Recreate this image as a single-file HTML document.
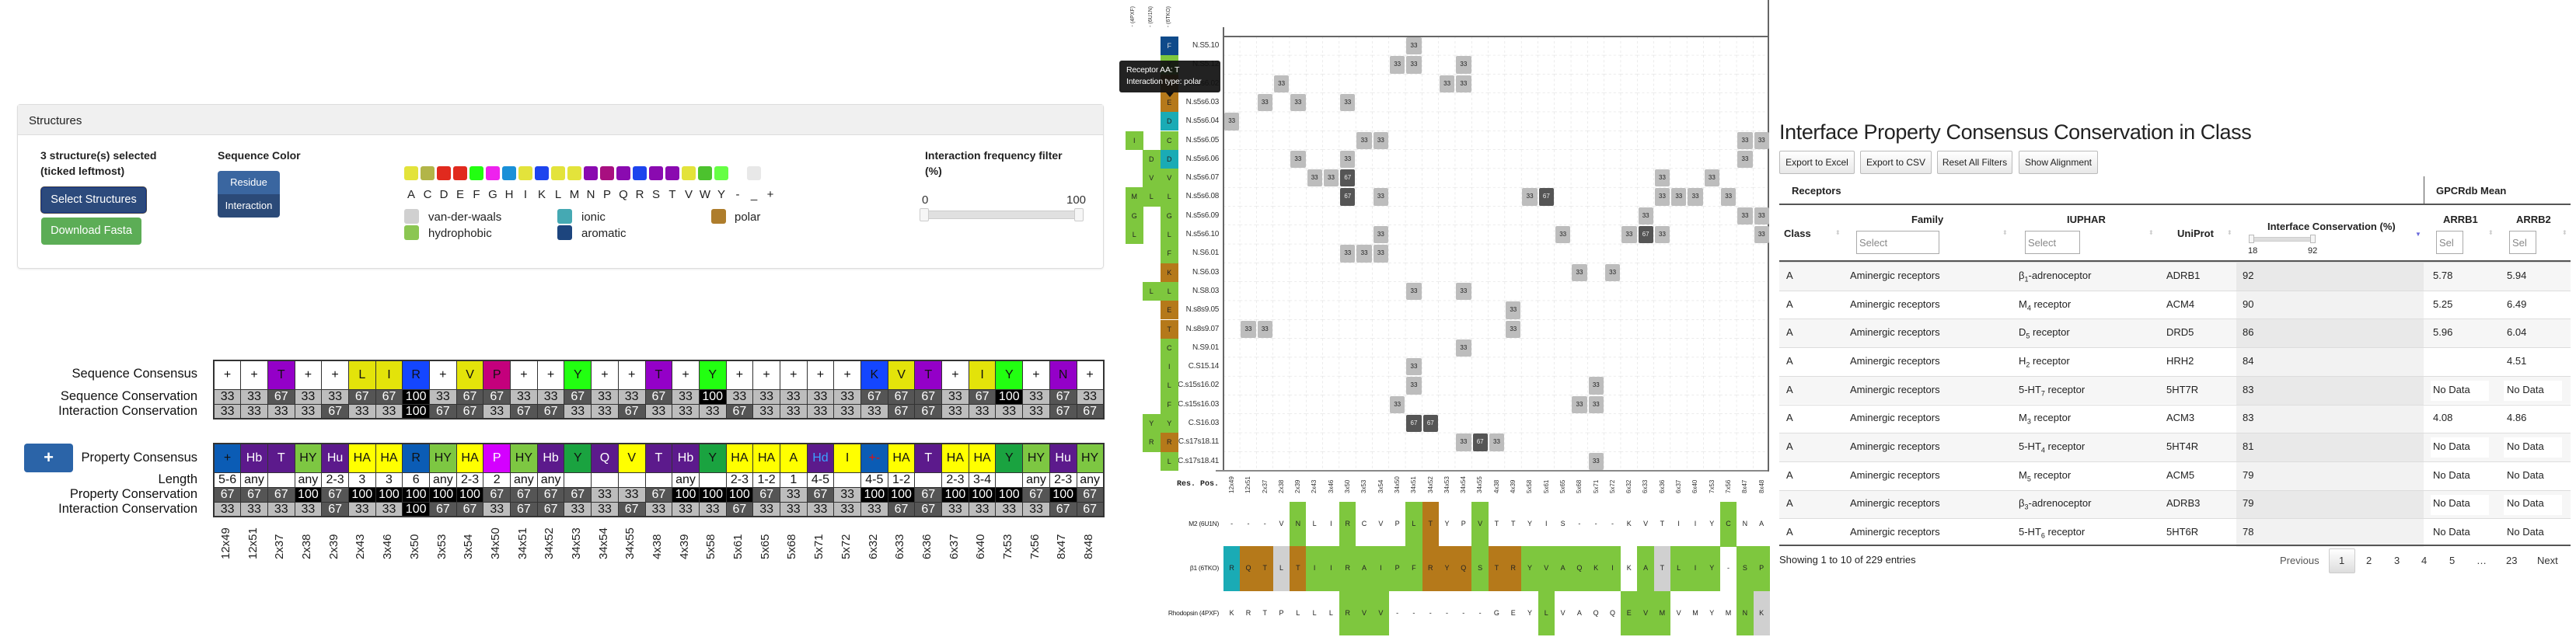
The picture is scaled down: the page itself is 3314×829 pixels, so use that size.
<!DOCTYPE html>
<html><head><meta charset="utf-8">
<style>
*{box-sizing:border-box;margin:0;padding:0}
body{width:3314px;height:829px;position:relative;overflow:hidden;background:#fff;font-family:"Liberation Sans",Arial,sans-serif;color:#333}
.a{position:absolute}
.panel{left:22px;top:134px;width:1398px;height:212px;border:1px solid #ddd;border-radius:4px;box-shadow:0 1px 2px rgba(0,0,0,.08)}
.ph{position:absolute;left:0;top:0;right:0;height:39px;background:#f0f0f0;border-bottom:1px solid #ddd;font-size:15px;padding:12px 0 0 14px;color:#222}
.b{font-weight:bold;font-size:14px;color:#222;line-height:20px}
.btn{position:absolute;color:#fff;font-size:14.5px;text-align:center;border-radius:4px}
.sq{position:absolute;top:214px;width:18px;height:18px;border-radius:3px}
.lt{position:absolute;top:242px;font-size:15px;color:#222;width:18px;text-align:center}
.lg{position:absolute;width:19px;height:19px;border-radius:3px}
.lgt{position:absolute;font-size:15px;color:#222}
table.s{position:absolute;left:274px;border-collapse:collapse;table-layout:fixed;width:1145px;border:2px solid #333}
table.s td{border:1.5px solid #333;text-align:center;font-size:16px;width:34.7px;padding:0;color:#111;overflow:hidden;white-space:nowrap}
.r1 td{height:37px}
.r2 td{height:19px;line-height:17px}
.w{background:#fff}
.c33{background:#bdbdbd;color:#111}
.c67{background:#555;color:#fff!important}
.c100{background:#000;color:#fff!important}
.pu{background:#9400c8}.ye{background:#e3e30a}.bl{background:#1446ff}.mg{background:#c4007c}.gr{background:#22ff11}
.P1{background:#0b5cb5;color:#111}.P2{background:#5c1a8c;color:#fff!important}.P3{background:#7dc742}.P4{background:#ffff00}.P5{background:#d400ff;color:#fff!important}.P6{background:#1aa340}
.lab{position:absolute;right:3060px;font-size:16.5px;color:#111;text-align:right;white-space:nowrap}
.xl{position:absolute;display:flex}
.xl span{display:block;writing-mode:vertical-rl;transform:rotate(180deg);text-align:left;font-size:15px;color:#222;width:34.7px;line-height:34.7px}
.hm{position:absolute;left:calc(1575px + var(--c)*21.3px);top:calc(48px + var(--r)*24.3px);width:19.4px;height:22.4px;border-radius:2px;background:#bdbdbd;font-size:8px;text-align:center;line-height:22.4px;color:#222}
.hm.d{background:#555;color:#eee}
.rl{position:absolute;right:1746px;font-size:10px;color:#333;height:24.3px;line-height:24.3px;white-space:nowrap;letter-spacing:-.3px}
.sc{position:absolute;width:22.6px;height:24.3px;font-size:9px;text-align:center;line-height:24.3px;color:#222}
.g{background:#7ec73e}.br{background:#b5791a}.tl{background:#1aabb5}.db{background:#0f4a8a}.gy{background:#d0d0d0}
.al{position:absolute;left:1574px;display:flex;height:57.5px}
.al span{width:21.3px;height:57.5px;line-height:57.5px;text-align:center;font-size:9px;color:#222;display:block}
.hx{position:absolute;left:1574px;top:609px;display:flex}
.hx span{writing-mode:vertical-rl;transform:rotate(180deg);width:21.3px;line-height:21.3px;font-size:8px;color:#333;height:26px;text-align:left}
.al-l{position:absolute;right:1746px;font-size:8.5px;color:#222;white-space:nowrap;letter-spacing:-.3px}
.tb{position:absolute;font-size:13px;color:#222;white-space:nowrap}
.th{font-weight:bold}
.row{position:absolute;left:2289px;width:1018px;height:36.7px;border-top:1px solid #ddd}
.row.o{background:#f6f6f6}
.cc{position:absolute;left:588px;width:241px;top:0;height:36px;background:#f2f2f2}
.row.o .cc{background:#e9e9e9}
.nd{position:absolute;top:5px;height:26px;width:75px;background:#fff}
.ebtn{position:absolute;top:194px;height:30px;border:1px solid #bbb;border-radius:2px;background:linear-gradient(#fff,#e8e8e8);font-size:12px;text-align:center;line-height:28px;color:#222}
.sel{position:absolute;top:297px;height:30px;border:1px solid #aaa;font-size:13px;color:#888;padding:7px 0 0 3px;overflow:hidden;background:#fff}
.pg{position:absolute;top:714px;font-size:13px;color:#333}
</style></head><body>

<div class="a panel">
 <div class="ph">Structures</div>
</div>
<div class="a b" style="left:52px;top:190px">3 structure(s) selected<br>(ticked leftmost)</div>
<div class="btn" style="left:53px;top:241px;width:135px;height:33px;background:#2c4a7c;border:1.5px solid #1a3a8c;box-shadow:0 0 0 1px #444;line-height:30px">Select Structures</div>
<div class="btn" style="left:53px;top:280px;width:129px;height:35px;background:#5cad56;line-height:35px">Download Fasta</div>
<div class="a b" style="left:280px;top:190px">Sequence Color</div>
<div class="btn" style="left:280px;top:220px;width:80px;height:30px;background:#3a66a0;border-radius:4px 4px 0 0;line-height:30px;font-size:13px">Residue</div>
<div class="btn" style="left:280px;top:250px;width:80px;height:30px;background:#2b4a78;border-radius:0 0 4px 4px;line-height:30px;font-size:13px">Interaction</div>

<div class="sq" style="left:520px;background:#e3e33b"></div><div class="sq" style="left:541px;background:#b2b548"></div><div class="sq" style="left:562px;background:#e12a1e"></div><div class="sq" style="left:583px;background:#e12a1e"></div><div class="sq" style="left:604px;background:#22ff11"></div><div class="sq" style="left:625px;background:#ee22ee"></div><div class="sq" style="left:646px;background:#1a90d8"></div><div class="sq" style="left:667px;background:#e3e33b"></div><div class="sq" style="left:688px;background:#1d44ee"></div><div class="sq" style="left:709px;background:#e3e33b"></div><div class="sq" style="left:730px;background:#e3e33b"></div><div class="sq" style="left:751px;background:#8a0ab0"></div><div class="sq" style="left:772px;background:#a80f80"></div><div class="sq" style="left:793px;background:#8a0ab0"></div><div class="sq" style="left:814px;background:#1d44ee"></div><div class="sq" style="left:835px;background:#8a0ab0"></div><div class="sq" style="left:856px;background:#8a0ab0"></div><div class="sq" style="left:877px;background:#e3e33b"></div><div class="sq" style="left:898px;background:#4cc22e"></div><div class="sq" style="left:919px;background:#66ff44"></div><div class="sq" style="left:961px;background:#e8e8e8"></div>
<div class="lt" style="left:520px">A</div><div class="lt" style="left:541px">C</div><div class="lt" style="left:562px">D</div><div class="lt" style="left:583px">E</div><div class="lt" style="left:604px">F</div><div class="lt" style="left:625px">G</div><div class="lt" style="left:646px">H</div><div class="lt" style="left:667px">I</div><div class="lt" style="left:688px">K</div><div class="lt" style="left:709px">L</div><div class="lt" style="left:730px">M</div><div class="lt" style="left:751px">N</div><div class="lt" style="left:772px">P</div><div class="lt" style="left:793px">Q</div><div class="lt" style="left:814px">R</div><div class="lt" style="left:835px">S</div><div class="lt" style="left:856px">T</div><div class="lt" style="left:877px">V</div><div class="lt" style="left:898px">W</div><div class="lt" style="left:919px">Y</div><div class="lt" style="left:940px">-</div><div class="lt" style="left:961px">_</div><div class="lt" style="left:982px">+</div>
<div class="lg" style="left:520px;top:269px;background:#d0d0d0"></div><div class="lgt" style="left:551px;top:271px">van-der-waals</div>
<div class="lg" style="left:520px;top:290px;background:#8bc652"></div><div class="lgt" style="left:551px;top:292px">hydrophobic</div>
<div class="lg" style="left:717px;top:269px;background:#45a9b3"></div><div class="lgt" style="left:748px;top:271px">ionic</div>
<div class="lg" style="left:717px;top:290px;background:#1d457e"></div><div class="lgt" style="left:748px;top:292px">aromatic</div>
<div class="lg" style="left:915px;top:269px;background:#ae7d2c"></div><div class="lgt" style="left:945px;top:271px">polar</div>

<div class="a b" style="left:1190px;top:190px">Interaction frequency filter<br>(%)</div>
<div class="a" style="left:1186px;top:249px;font-size:15px">0</div>
<div class="a" style="left:1372px;top:249px;font-size:15px">100</div>
<div class="a" style="left:1186px;top:271px;width:208px;height:11px;background:#e0e0e0;border:1px solid #ccc;border-radius:2px"></div>
<div class="a" style="left:1183px;top:268px;width:12px;height:17px;background:#f6f6f6;border:1px solid #ccc;border-radius:2px"></div>
<div class="a" style="left:1382px;top:268px;width:12px;height:17px;background:#f6f6f6;border:1px solid #ccc;border-radius:2px"></div>

<div class="lab" style="top:472px">Sequence Consensus</div>
<div class="lab" style="top:501px">Sequence Conservation</div>
<div class="lab" style="top:520px">Interaction Conservation</div>
<table class="s" style="top:463px">
<tr class="r1"><td class="w">+</td><td class="w">+</td><td class="pu">T</td><td class="w">+</td><td class="w">+</td><td class="ye">L</td><td class="ye">I</td><td class="bl">R</td><td class="w">+</td><td class="ye">V</td><td class="mg">P</td><td class="w">+</td><td class="w">+</td><td class="gr">Y</td><td class="w">+</td><td class="w">+</td><td class="pu">T</td><td class="w">+</td><td class="gr">Y</td><td class="w">+</td><td class="w">+</td><td class="w">+</td><td class="w">+</td><td class="w">+</td><td class="bl">K</td><td class="ye">V</td><td class="pu">T</td><td class="w">+</td><td class="ye">I</td><td class="gr">Y</td><td class="w">+</td><td class="pu">N</td><td class="w">+</td></tr>
<tr class="r2"><td class="c33">33</td><td class="c33">33</td><td class="c67">67</td><td class="c33">33</td><td class="c33">33</td><td class="c67">67</td><td class="c67">67</td><td class="c100">100</td><td class="c33">33</td><td class="c67">67</td><td class="c67">67</td><td class="c33">33</td><td class="c33">33</td><td class="c67">67</td><td class="c33">33</td><td class="c33">33</td><td class="c67">67</td><td class="c33">33</td><td class="c100">100</td><td class="c33">33</td><td class="c33">33</td><td class="c33">33</td><td class="c33">33</td><td class="c33">33</td><td class="c67">67</td><td class="c67">67</td><td class="c67">67</td><td class="c33">33</td><td class="c67">67</td><td class="c100">100</td><td class="c33">33</td><td class="c67">67</td><td class="c33">33</td></tr>
<tr class="r2"><td class="c33">33</td><td class="c33">33</td><td class="c33">33</td><td class="c33">33</td><td class="c67">67</td><td class="c33">33</td><td class="c33">33</td><td class="c100">100</td><td class="c67">67</td><td class="c67">67</td><td class="c33">33</td><td class="c67">67</td><td class="c67">67</td><td class="c33">33</td><td class="c33">33</td><td class="c67">67</td><td class="c33">33</td><td class="c33">33</td><td class="c33">33</td><td class="c67">67</td><td class="c33">33</td><td class="c33">33</td><td class="c33">33</td><td class="c33">33</td><td class="c33">33</td><td class="c67">67</td><td class="c67">67</td><td class="c33">33</td><td class="c33">33</td><td class="c33">33</td><td class="c33">33</td><td class="c67">67</td><td class="c67">67</td></tr>
</table>

<div class="btn" style="left:31px;top:571px;width:63px;height:37px;background:#2b64a8;font-size:22px;line-height:35px;font-weight:bold">+</div>
<div class="lab" style="top:580px">Property Consensus</div>
<div class="lab" style="top:608px">Length</div>
<div class="lab" style="top:627px">Property Conservation</div>
<div class="lab" style="top:646px">Interaction Conservation</div>
<table class="s" style="top:570px">
<tr class="r1"><td class="P1">+</td><td class="P2">Hb</td><td class="P2">T</td><td class="P3">HY</td><td class="P2">Hu</td><td class="P4">HA</td><td class="P4">HA</td><td class="P1">R</td><td class="P3">HY</td><td class="P4">HA</td><td class="P5">P</td><td class="P3">HY</td><td class="P2">Hb</td><td class="P6">Y</td><td class="P2">Q</td><td class="P4">V</td><td class="P2">T</td><td class="P2">Hb</td><td class="P6">Y</td><td class="P4">HA</td><td class="P4">HA</td><td class="P4">A</td><td class="P2" style="color:#3aa0ff!important">Hd</td><td class="P4">I</td><td class="P1" style="color:#e01010">+-</td><td class="P4">HA</td><td class="P2">T</td><td class="P4">HA</td><td class="P4">HA</td><td class="P6">Y</td><td class="P3">HY</td><td class="P2">Hu</td><td class="P3">HY</td></tr>
<tr class="r2"><td class="w">5-6</td><td class="w">any</td><td class="w"></td><td class="w">any</td><td class="w">2-3</td><td class="w">3</td><td class="w">3</td><td class="w">6</td><td class="w">any</td><td class="w">2-3</td><td class="w">2</td><td class="w">any</td><td class="w">any</td><td class="w"></td><td class="w"></td><td class="w"></td><td class="w"></td><td class="w">any</td><td class="w"></td><td class="w">2-3</td><td class="w">1-2</td><td class="w">1</td><td class="w">4-5</td><td class="w"></td><td class="w">4-5</td><td class="w">1-2</td><td class="w"></td><td class="w">2-3</td><td class="w">3-4</td><td class="w"></td><td class="w">any</td><td class="w">2-3</td><td class="w">any</td></tr>
<tr class="r2"><td class="c67">67</td><td class="c67">67</td><td class="c67">67</td><td class="c100">100</td><td class="c67">67</td><td class="c100">100</td><td class="c100">100</td><td class="c100">100</td><td class="c100">100</td><td class="c100">100</td><td class="c67">67</td><td class="c67">67</td><td class="c67">67</td><td class="c67">67</td><td class="c33">33</td><td class="c33">33</td><td class="c67">67</td><td class="c100">100</td><td class="c100">100</td><td class="c100">100</td><td class="c67">67</td><td class="c33">33</td><td class="c67">67</td><td class="c33">33</td><td class="c100">100</td><td class="c100">100</td><td class="c67">67</td><td class="c100">100</td><td class="c100">100</td><td class="c100">100</td><td class="c67">67</td><td class="c100">100</td><td class="c67">67</td></tr>
<tr class="r2"><td class="c33">33</td><td class="c33">33</td><td class="c33">33</td><td class="c33">33</td><td class="c67">67</td><td class="c33">33</td><td class="c33">33</td><td class="c100">100</td><td class="c67">67</td><td class="c67">67</td><td class="c33">33</td><td class="c67">67</td><td class="c67">67</td><td class="c33">33</td><td class="c33">33</td><td class="c67">67</td><td class="c33">33</td><td class="c33">33</td><td class="c33">33</td><td class="c67">67</td><td class="c33">33</td><td class="c33">33</td><td class="c33">33</td><td class="c33">33</td><td class="c33">33</td><td class="c67">67</td><td class="c67">67</td><td class="c33">33</td><td class="c33">33</td><td class="c33">33</td><td class="c33">33</td><td class="c67">67</td><td class="c67">67</td></tr>
</table>
<div class="xl" style="left:274px;top:676px;height:44px">
<span>12x49</span><span>12x51</span><span>2x37</span><span>2x38</span><span>2x39</span><span>2x43</span><span>3x46</span><span>3x50</span><span>3x53</span><span>3x54</span><span>34x50</span><span>34x51</span><span>34x52</span><span>34x53</span><span>34x54</span><span>34x55</span><span>4x38</span><span>4x39</span><span>5x58</span><span>5x61</span><span>5x65</span><span>5x68</span><span>5x71</span><span>5x72</span><span>6x32</span><span>6x33</span><span>6x36</span><span>6x37</span><span>6x40</span><span>7x53</span><span>7x56</span><span>8x47</span><span>8x48</span>
</div>

<svg class="a" style="left:1574px;top:47px" width="701" height="560">
<defs><pattern id="gp" width="21.3" height="24.3" patternUnits="userSpaceOnUse">
<line x1="21.3" y1="0" x2="21.3" y2="24.3" stroke="#d8d8d8" stroke-width="1" stroke-dasharray="3,3"/>
<line x1="0" y1="24.3" x2="21.3" y2="24.3" stroke="#d8d8d8" stroke-width="1" stroke-dasharray="3,3"/>
</pattern></defs>
<rect x="0" y="0" width="700" height="559" fill="url(#gp)"/>
</svg>
<div class="a" style="left:1573px;top:35px;width:1.5px;height:572px;background:#666"></div>
<div class="a" style="left:1574px;top:46px;width:701px;height:1.5px;background:#666"></div>
<div class="a" style="left:1564px;top:605px;width:711px;height:1.5px;background:#888"></div>
<div class="a" style="left:2274px;top:0px;width:1.5px;height:607px;background:#666"></div>

<div class="a" style="left:1454px;top:8px;writing-mode:vertical-rl;transform:rotate(180deg);font-size:7px;color:#333">- (4PXF)</div>
<div class="a" style="left:1477px;top:8px;writing-mode:vertical-rl;transform:rotate(180deg);font-size:7px;color:#333">- (6U1N)</div>
<div class="a" style="left:1500px;top:8px;writing-mode:vertical-rl;transform:rotate(180deg);font-size:7px;color:#333">- (6TKO)</div>

<div class="rl" style="top:47px">N.S5.10</div><div class="rl" style="top:71.3px">N.S5.12</div><div class="rl" style="top:95.6px">N.s5s6.02</div><div class="rl" style="top:119.9px">N.s5s6.03</div><div class="rl" style="top:144.2px">N.s5s6.04</div><div class="rl" style="top:168.5px">N.s5s6.05</div><div class="rl" style="top:192.8px">N.s5s6.06</div><div class="rl" style="top:217.1px">N.s5s6.07</div><div class="rl" style="top:241.4px">N.s5s6.08</div><div class="rl" style="top:265.7px">N.s5s6.09</div><div class="rl" style="top:290px">N.s5s6.10</div><div class="rl" style="top:314.3px">N.S6.01</div><div class="rl" style="top:338.6px">N.S6.03</div><div class="rl" style="top:362.9px">N.S8.03</div><div class="rl" style="top:387.2px">N.s8s9.05</div><div class="rl" style="top:411.5px">N.s8s9.07</div><div class="rl" style="top:435.8px">N.S9.01</div><div class="rl" style="top:460.1px">C.S15.14</div><div class="rl" style="top:484.4px">C.s15s16.02</div><div class="rl" style="top:508.7px">C.s15s16.03</div><div class="rl" style="top:533px">C.S16.03</div><div class="rl" style="top:557.3px">C.s17s18.11</div><div class="rl" style="top:581.6px">C.s17s18.41</div>

<div class="sc db" style="left:1493px;top:47px;color:#ddd">F</div>
<div class="sc g" style="left:1493px;top:71.3px">Y</div>
<div class="sc br" style="left:1493px;top:95.6px">T</div>
<div class="sc br" style="left:1493px;top:119.9px">E</div>
<div class="sc tl" style="left:1493px;top:144.2px">D</div>
<div class="sc g" style="left:1448px;top:168.5px">I</div><div class="sc g" style="left:1493px;top:168.5px">C</div>
<div class="sc g" style="left:1470px;top:192.8px">D</div><div class="sc tl" style="left:1493px;top:192.8px">D</div>
<div class="sc g" style="left:1470px;top:217.1px">V</div><div class="sc g" style="left:1493px;top:217.1px">V</div>
<div class="sc g" style="left:1448px;top:241.4px">M</div><div class="sc g" style="left:1470px;top:241.4px">L</div><div class="sc g" style="left:1493px;top:241.4px">L</div>
<div class="sc g" style="left:1448px;top:265.7px">G</div><div class="sc g" style="left:1493px;top:265.7px">G</div>
<div class="sc g" style="left:1448px;top:290px">L</div><div class="sc g" style="left:1493px;top:290px">L</div>
<div class="sc g" style="left:1493px;top:314.3px">F</div>
<div class="sc br" style="left:1493px;top:338.6px">K</div>
<div class="sc g" style="left:1470px;top:362.9px">L</div><div class="sc g" style="left:1493px;top:362.9px">L</div>
<div class="sc br" style="left:1493px;top:387.2px">E</div>
<div class="sc br" style="left:1493px;top:411.5px">T</div>
<div class="sc g" style="left:1493px;top:435.8px">C</div>
<div class="sc g" style="left:1493px;top:460.1px">I</div>
<div class="sc g" style="left:1493px;top:484.4px">L</div>
<div class="sc g" style="left:1493px;top:508.7px">F</div>
<div class="sc g" style="left:1470px;top:533px">Y</div><div class="sc g" style="left:1493px;top:533px">Y</div>
<div class="sc g" style="left:1470px;top:557.3px">R</div><div class="sc br" style="left:1493px;top:557.3px">R</div>
<div class="sc g" style="left:1493px;top:581.6px">L</div>

<div class="hm" style="--r:0;--c:11">33</div>
<div class="hm" style="--r:1;--c:10">33</div><div class="hm" style="--r:1;--c:11">33</div><div class="hm" style="--r:1;--c:14">33</div>
<div class="hm" style="--r:2;--c:3">33</div><div class="hm" style="--r:2;--c:13">33</div><div class="hm" style="--r:2;--c:14">33</div>
<div class="hm" style="--r:3;--c:2">33</div><div class="hm" style="--r:3;--c:4">33</div><div class="hm" style="--r:3;--c:7">33</div>
<div class="hm" style="--r:4;--c:0">33</div>
<div class="hm" style="--r:5;--c:8">33</div><div class="hm" style="--r:5;--c:9">33</div><div class="hm" style="--r:5;--c:31">33</div><div class="hm" style="--r:5;--c:32">33</div>
<div class="hm" style="--r:6;--c:4">33</div><div class="hm" style="--r:6;--c:7">33</div><div class="hm" style="--r:6;--c:31">33</div>
<div class="hm" style="--r:7;--c:5">33</div><div class="hm" style="--r:7;--c:6">33</div><div class="hm d" style="--r:7;--c:7">67</div><div class="hm" style="--r:7;--c:26">33</div><div class="hm" style="--r:7;--c:29">33</div>
<div class="hm d" style="--r:8;--c:7">67</div><div class="hm" style="--r:8;--c:9">33</div><div class="hm" style="--r:8;--c:18">33</div><div class="hm d" style="--r:8;--c:19">67</div><div class="hm" style="--r:8;--c:26">33</div><div class="hm" style="--r:8;--c:27">33</div><div class="hm" style="--r:8;--c:28">33</div><div class="hm" style="--r:8;--c:30">33</div>
<div class="hm" style="--r:9;--c:25">33</div><div class="hm" style="--r:9;--c:31">33</div><div class="hm" style="--r:9;--c:32">33</div>
<div class="hm" style="--r:10;--c:9">33</div><div class="hm" style="--r:10;--c:20">33</div><div class="hm" style="--r:10;--c:24">33</div><div class="hm d" style="--r:10;--c:25">67</div><div class="hm" style="--r:10;--c:26">33</div><div class="hm" style="--r:10;--c:32">33</div>
<div class="hm" style="--r:11;--c:7">33</div><div class="hm" style="--r:11;--c:8">33</div><div class="hm" style="--r:11;--c:9">33</div>
<div class="hm" style="--r:12;--c:21">33</div><div class="hm" style="--r:12;--c:23">33</div>
<div class="hm" style="--r:13;--c:11">33</div><div class="hm" style="--r:13;--c:14">33</div>
<div class="hm" style="--r:14;--c:17">33</div>
<div class="hm" style="--r:15;--c:1">33</div><div class="hm" style="--r:15;--c:2">33</div><div class="hm" style="--r:15;--c:17">33</div>
<div class="hm" style="--r:16;--c:14">33</div>
<div class="hm" style="--r:17;--c:11">33</div>
<div class="hm" style="--r:18;--c:11">33</div><div class="hm" style="--r:18;--c:22">33</div>
<div class="hm" style="--r:19;--c:10">33</div><div class="hm" style="--r:19;--c:21">33</div><div class="hm" style="--r:19;--c:22">33</div>
<div class="hm d" style="--r:20;--c:11">67</div><div class="hm d" style="--r:20;--c:12">67</div>
<div class="hm" style="--r:21;--c:14">33</div><div class="hm d" style="--r:21;--c:15">67</div><div class="hm" style="--r:21;--c:16">33</div>
<div class="hm" style="--r:22;--c:22">33</div>

<div class="a" style="left:1440px;top:78px;width:130px;height:41px;background:rgba(15,15,15,.92);border-radius:3px;color:#fff;font-size:10.5px;padding:5px 0 0 9px;line-height:15px;letter-spacing:-.2px">Receptor AA: T<br>Interaction type: polar</div>
<div class="a" style="left:1500px;top:119px;width:0;height:0;border-left:5px solid transparent;border-right:5px solid transparent;border-top:6px solid #111"></div>

<div class="hx">
<span>12x49</span><span>12x51</span><span>2x37</span><span>2x38</span><span>2x39</span><span>2x43</span><span>3x46</span><span>3x50</span><span>3x53</span><span>3x54</span><span>34x50</span><span>34x51</span><span>34x52</span><span>34x53</span><span>34x54</span><span>34x55</span><span>4x38</span><span>4x39</span><span>5x58</span><span>5x61</span><span>5x65</span><span>5x68</span><span>5x71</span><span>5x72</span><span>6x32</span><span>6x33</span><span>6x36</span><span>6x37</span><span>6x40</span><span>7x53</span><span>7x56</span><span>8x47</span><span>8x48</span>
</div>
<div class="a" style="right:1746px;top:618px;font-size:10px;font-weight:bold;font-family:'Liberation Mono',monospace;color:#222">Res. Pos.</div>

<div class="al-l" style="top:669px">M2 (6U1N)</div>
<div class="al-l" style="top:726px">β1 (6TKO)</div>
<div class="al-l" style="top:784px">Rhodopsin (4PXF)</div>
<div class="al" style="top:646px"><span>-</span><span>-</span><span>-</span><span>V</span><span class="g">N</span><span>L</span><span>I</span><span class="g">R</span><span>C</span><span>V</span><span>P</span><span class="g">L</span><span class="br">T</span><span>Y</span><span>P</span><span class="g">V</span><span>T</span><span>T</span><span>Y</span><span>I</span><span>S</span><span>-</span><span>-</span><span>-</span><span>K</span><span>V</span><span>T</span><span>I</span><span>I</span><span>Y</span><span class="g">C</span><span>N</span><span>A</span></div>
<div class="al" style="top:703px"><span class="tl">R</span><span class="br">Q</span><span class="br">T</span><span class="gy">L</span><span class="br">T</span><span class="g">I</span><span class="g">I</span><span class="g">R</span><span class="g">A</span><span class="g">I</span><span class="g">P</span><span class="g">F</span><span class="br">R</span><span class="br">Y</span><span class="br">Q</span><span class="g">S</span><span class="br">T</span><span class="br">R</span><span class="g">Y</span><span class="g">V</span><span class="g">A</span><span class="g">Q</span><span class="g">K</span><span class="g">I</span><span>K</span><span class="g">A</span><span class="gy">T</span><span class="g">L</span><span class="g">I</span><span class="g">Y</span><span>-</span><span class="g">S</span><span class="g">P</span></div>
<div class="al" style="top:760.5px"><span>K</span><span>R</span><span>T</span><span>P</span><span>L</span><span>L</span><span>L</span><span class="g">R</span><span class="g">V</span><span class="g">V</span><span>-</span><span>-</span><span>-</span><span>-</span><span>-</span><span>-</span><span>G</span><span>E</span><span>Y</span><span class="g">L</span><span>V</span><span>A</span><span>Q</span><span>Q</span><span class="g">E</span><span class="g">V</span><span class="g">M</span><span>V</span><span>M</span><span>Y</span><span>M</span><span class="g">N</span><span class="gy">K</span></div>

<div class="a" style="left:2289px;top:155px;font-size:27px;color:#222;letter-spacing:-.4px">Interface Property Consensus Conservation in Class</div>
<div class="ebtn" style="left:2289px;width:97px">Export to Excel</div>
<div class="ebtn" style="left:2393px;width:92px">Export to CSV</div>
<div class="ebtn" style="left:2492px;width:97px">Reset All Filters</div>
<div class="ebtn" style="left:2597px;width:102px">Show Alignment</div>
<div class="tb th" style="left:2305px;top:238px">Receptors</div>
<div class="tb th" style="left:3134px;top:238px">GPCRdb Mean</div>
<div class="a" style="left:3118px;top:227px;width:1px;height:36px;background:#555"></div>
<div class="a" style="left:2289px;top:262px;width:1018px;height:2px;background:#555"></div>
<div class="tb th" style="left:2295px;top:293px">Class</div>
<div class="tb th" style="left:2459px;top:275px">Family</div>
<div class="tb th" style="left:2659px;top:275px">IUPHAR</div>
<div class="tb th" style="left:2801px;top:293px">UniProt</div>
<div class="tb th" style="left:2917px;top:284px">Interface Conservation (%)</div>
<div class="tb th" style="left:3143px;top:275px">ARRB1</div>
<div class="tb th" style="left:3237px;top:275px">ARRB2</div>
<div class="sel" style="left:2388px;width:107px">Select</div>
<div class="sel" style="left:2605px;width:71px">Select</div>
<div class="sel" style="left:3134px;width:35px">Sel</div>
<div class="sel" style="left:3228px;width:35px">Sel</div>
<div class="a" style="left:2896px;top:305px;width:80px;height:6px;background:#ddd;border:1px solid #ccc"></div>
<div class="a" style="left:2893px;top:302px;width:7px;height:11px;background:#f6f6f6;border:1px solid #bbb"></div>
<div class="a" style="left:2972px;top:302px;width:7px;height:11px;background:#f6f6f6;border:1px solid #bbb"></div>
<div class="tb" style="left:2892px;top:317px;font-size:11px">18</div>
<div class="tb" style="left:2969px;top:317px;font-size:11px">92</div>
<div class="tb" style="left:3107px;top:297px;font-size:8px;color:#6a6adb">▼</div>
<div class="tb" style="left:2361px;top:295px;font-size:8px;color:#ccc">⬍</div>
<div class="tb" style="left:2576px;top:295px;font-size:8px;color:#ccc">⬍</div>
<div class="tb" style="left:2764px;top:295px;font-size:8px;color:#ccc">⬍</div>
<div class="tb" style="left:2865px;top:295px;font-size:8px;color:#ccc">⬍</div>
<div class="tb" style="left:3201px;top:295px;font-size:8px;color:#ccc">⬍</div>
<div class="tb" style="left:3296px;top:295px;font-size:8px;color:#ccc">⬍</div>
<div class="a" style="left:2289px;top:335px;width:1018px;height:2px;background:#555"></div>

<div class="row o" style="top:337px"><div class="cc"></div></div>
<div class="row" style="top:373.7px"><div class="cc"></div></div>
<div class="row o" style="top:410.4px"><div class="cc"></div></div>
<div class="row" style="top:447.1px"><div class="cc"></div></div>
<div class="row o" style="top:483.8px"><div class="cc"></div><div class="nd" style="left:838px"></div><div class="nd" style="left:932px"></div></div>
<div class="row" style="top:520.5px"><div class="cc"></div></div>
<div class="row o" style="top:557.2px"><div class="cc"></div><div class="nd" style="left:838px"></div><div class="nd" style="left:932px"></div></div>
<div class="row" style="top:593.9px"><div class="cc"></div></div>
<div class="row o" style="top:630.6px"><div class="cc"></div><div class="nd" style="left:838px"></div><div class="nd" style="left:932px"></div></div>
<div class="row" style="top:667.3px"><div class="cc"></div></div>
<div class="a" style="left:2289px;top:701px;width:1018px;height:2px;background:#555"></div>

<div class="tb" style="left:2298px;top:347px">A</div><div class="tb" style="left:2380px;top:347px">Aminergic receptors</div><div class="tb" style="left:2597px;top:347px">β<sub style="font-size:9px">1</sub>-adrenoceptor</div><div class="tb" style="left:2787px;top:347px">ADRB1</div><div class="tb" style="left:2885px;top:347px">92</div><div class="tb" style="left:3130px;top:347px">5.78</div><div class="tb" style="left:3225px;top:347px">5.94</div>
<div class="tb" style="left:2298px;top:384px">A</div><div class="tb" style="left:2380px;top:384px">Aminergic receptors</div><div class="tb" style="left:2597px;top:384px">M<sub style="font-size:9px">4</sub> receptor</div><div class="tb" style="left:2787px;top:384px">ACM4</div><div class="tb" style="left:2885px;top:384px">90</div><div class="tb" style="left:3130px;top:384px">5.25</div><div class="tb" style="left:3225px;top:384px">6.49</div>
<div class="tb" style="left:2298px;top:420px">A</div><div class="tb" style="left:2380px;top:420px">Aminergic receptors</div><div class="tb" style="left:2597px;top:420px">D<sub style="font-size:9px">5</sub> receptor</div><div class="tb" style="left:2787px;top:420px">DRD5</div><div class="tb" style="left:2885px;top:420px">86</div><div class="tb" style="left:3130px;top:420px">5.96</div><div class="tb" style="left:3225px;top:420px">6.04</div>
<div class="tb" style="left:2298px;top:457px">A</div><div class="tb" style="left:2380px;top:457px">Aminergic receptors</div><div class="tb" style="left:2597px;top:457px">H<sub style="font-size:9px">2</sub> receptor</div><div class="tb" style="left:2787px;top:457px">HRH2</div><div class="tb" style="left:2885px;top:457px">84</div><div class="tb" style="left:3225px;top:457px">4.51</div>
<div class="tb" style="left:2298px;top:494px">A</div><div class="tb" style="left:2380px;top:494px">Aminergic receptors</div><div class="tb" style="left:2597px;top:494px">5-HT<sub style="font-size:9px">7</sub> receptor</div><div class="tb" style="left:2787px;top:494px">5HT7R</div><div class="tb" style="left:2885px;top:494px">83</div><div class="tb" style="left:3130px;top:494px">No Data</div><div class="tb" style="left:3225px;top:494px">No Data</div>
<div class="tb" style="left:2298px;top:530px">A</div><div class="tb" style="left:2380px;top:530px">Aminergic receptors</div><div class="tb" style="left:2597px;top:530px">M<sub style="font-size:9px">3</sub> receptor</div><div class="tb" style="left:2787px;top:530px">ACM3</div><div class="tb" style="left:2885px;top:530px">83</div><div class="tb" style="left:3130px;top:530px">4.08</div><div class="tb" style="left:3225px;top:530px">4.86</div>
<div class="tb" style="left:2298px;top:567px">A</div><div class="tb" style="left:2380px;top:567px">Aminergic receptors</div><div class="tb" style="left:2597px;top:567px">5-HT<sub style="font-size:9px">4</sub> receptor</div><div class="tb" style="left:2787px;top:567px">5HT4R</div><div class="tb" style="left:2885px;top:567px">81</div><div class="tb" style="left:3130px;top:567px">No Data</div><div class="tb" style="left:3225px;top:567px">No Data</div>
<div class="tb" style="left:2298px;top:604px">A</div><div class="tb" style="left:2380px;top:604px">Aminergic receptors</div><div class="tb" style="left:2597px;top:604px">M<sub style="font-size:9px">5</sub> receptor</div><div class="tb" style="left:2787px;top:604px">ACM5</div><div class="tb" style="left:2885px;top:604px">79</div><div class="tb" style="left:3130px;top:604px">No Data</div><div class="tb" style="left:3225px;top:604px">No Data</div>
<div class="tb" style="left:2298px;top:640px">A</div><div class="tb" style="left:2380px;top:640px">Aminergic receptors</div><div class="tb" style="left:2597px;top:640px">β<sub style="font-size:9px">3</sub>-adrenoceptor</div><div class="tb" style="left:2787px;top:640px">ADRB3</div><div class="tb" style="left:2885px;top:640px">79</div><div class="tb" style="left:3130px;top:640px">No Data</div><div class="tb" style="left:3225px;top:640px">No Data</div>
<div class="tb" style="left:2298px;top:677px">A</div><div class="tb" style="left:2380px;top:677px">Aminergic receptors</div><div class="tb" style="left:2597px;top:677px">5-HT<sub style="font-size:9px">6</sub> receptor</div><div class="tb" style="left:2787px;top:677px">5HT6R</div><div class="tb" style="left:2885px;top:677px">78</div><div class="tb" style="left:3130px;top:677px">No Data</div><div class="tb" style="left:3225px;top:677px">No Data</div>

<div class="tb" style="left:2289px;top:713px">Showing 1 to 10 of 229 entries</div>
<div class="pg" style="left:2933px;color:#555">Previous</div>
<div class="a" style="left:2996px;top:706px;width:34px;height:32px;border:1px solid #ccc;border-radius:2px;background:linear-gradient(#fff,#ddd)"></div>
<div class="pg" style="left:3009px">1</div>
<div class="pg" style="left:3044px">2</div>
<div class="pg" style="left:3080px">3</div>
<div class="pg" style="left:3115px">4</div>
<div class="pg" style="left:3151px">5</div>
<div class="pg" style="left:3186px">…</div>
<div class="pg" style="left:3224px">23</div>
<div class="pg" style="left:3264px">Next</div>
</body></html>
